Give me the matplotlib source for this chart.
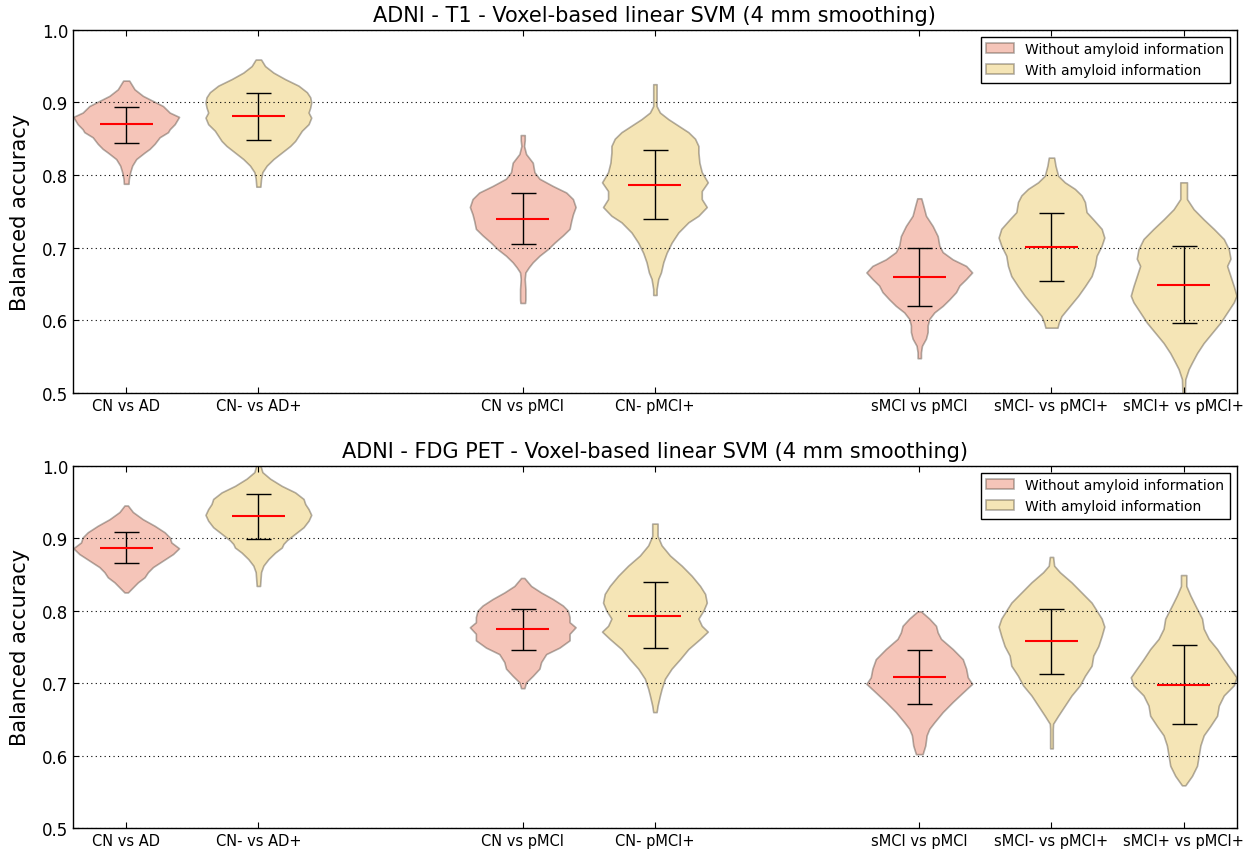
import numpy as np
import matplotlib.pyplot as plt
from matplotlib.patches import Patch

positions = [1, 2, 4, 5, 7, 8, 9]
tick_labels = ['CN vs AD', 'CN- vs AD+', 'CN vs pMCI', 'CN- pMCI+',
               'sMCI vs pMCI', 'sMCI- vs pMCI+', 'sMCI+ vs pMCI+']
with_amyloid = [False, True, False, True, False, True, True]
titles = ['ADNI - T1 - Voxel-based linear SVM (4 mm smoothing)',
          'ADNI - FDG PET - Voxel-based linear SVM (4 mm smoothing)']

# mean and std (error bar half length)
t1_mean = [0.870, 0.881, 0.739, 0.786, 0.660, 0.701, 0.649]
t1_low  = [0.844, 0.848, 0.705, 0.739, 0.620, 0.654, 0.596]
t1_high = [0.894, 0.913, 0.775, 0.834, 0.700, 0.748, 0.702]

pet_mean = [0.887, 0.930, 0.774, 0.793, 0.708, 0.758, 0.698]
pet_low  = [0.865, 0.899, 0.745, 0.748, 0.671, 0.712, 0.643]
pet_high = [0.909, 0.961, 0.802, 0.839, 0.746, 0.802, 0.752]

# violin outlines: accuracy levels and relative half widths
t1_y = [
    [0.930, 0.918, 0.909, 0.895, 0.886, 0.880, 0.870, 0.863, 0.859, 0.852, 0.843, 0.836, 0.831, 0.822, 0.813, 0.804, 0.795, 0.788],
    [0.959, 0.950, 0.941, 0.932, 0.923, 0.914, 0.907, 0.900, 0.893, 0.886, 0.879, 0.870, 0.861, 0.854, 0.847, 0.840, 0.831, 0.822, 0.813, 0.804, 0.795, 0.784],
    [0.855, 0.848, 0.840, 0.829, 0.817, 0.804, 0.795, 0.785, 0.776, 0.767, 0.756, 0.746, 0.737, 0.726, 0.717, 0.707, 0.698, 0.689, 0.680, 0.673, 0.666, 0.657, 0.643, 0.629, 0.624],
    [0.925, 0.910, 0.895, 0.886, 0.877, 0.868, 0.859, 0.850, 0.840, 0.831, 0.817, 0.804, 0.790, 0.778, 0.767, 0.756, 0.744, 0.735, 0.721, 0.707, 0.693, 0.680, 0.666, 0.657, 0.643, 0.635],
    [0.768, 0.758, 0.744, 0.730, 0.716, 0.703, 0.694, 0.684, 0.675, 0.666, 0.657, 0.648, 0.639, 0.629, 0.620, 0.611, 0.602, 0.593, 0.584, 0.575, 0.565, 0.556, 0.548],
    [0.824, 0.813, 0.799, 0.790, 0.781, 0.772, 0.763, 0.749, 0.739, 0.726, 0.714, 0.703, 0.689, 0.675, 0.661, 0.647, 0.634, 0.620, 0.606, 0.597, 0.590],
    [0.790, 0.767, 0.753, 0.739, 0.726, 0.712, 0.698, 0.685, 0.675, 0.661, 0.647, 0.634, 0.625, 0.611, 0.597, 0.583, 0.569, 0.555, 0.542, 0.533, 0.519, 0.490],
]
t1_w = [
    [9, 25, 50, 110, 130, 158, 145, 130, 125, 100, 85, 70, 55, 30, 18, 12, 8, 7],
    [8, 20, 45, 80, 120, 145, 155, 158, 155, 150, 158, 150, 130, 120, 110, 95, 70, 45, 25, 12, 8, 6],
    [6, 6, 4, 10, 30, 35, 50, 90, 130, 150, 158, 150, 145, 140, 120, 95, 75, 50, 30, 18, 8, 6, 8, 8, 7],
    [5, 5, 5, 15, 40, 70, 100, 120, 130, 130, 133, 140, 158, 140, 140, 155, 130, 100, 70, 50, 35, 25, 18, 10, 5, 5],
    [6, 12, 20, 40, 55, 60, 70, 100, 140, 158, 140, 120, 110, 90, 70, 45, 30, 25, 25, 20, 8, 5, 5],
    [8, 12, 20, 40, 70, 90, 100, 105, 125, 150, 158, 150, 135, 130, 120, 100, 80, 55, 30, 22, 18],
    [10, 10, 30, 60, 90, 120, 135, 140, 130, 140, 150, 158, 150, 130, 110, 85, 60, 40, 25, 15, 5, 3],
]

pet_y = [
    [0.945, 0.936, 0.926, 0.917, 0.908, 0.901, 0.894, 0.886, 0.878, 0.869, 0.860, 0.853, 0.846, 0.839, 0.832, 0.825],
    [1.002, 0.991, 0.982, 0.972, 0.963, 0.954, 0.947, 0.940, 0.932, 0.924, 0.915, 0.906, 0.897, 0.892, 0.887, 0.880, 0.871, 0.862, 0.853, 0.834],
    [0.845, 0.834, 0.825, 0.816, 0.807, 0.800, 0.791, 0.784, 0.777, 0.768, 0.759, 0.749, 0.740, 0.729, 0.720, 0.710, 0.701, 0.693],
    [0.920, 0.903, 0.890, 0.876, 0.862, 0.848, 0.834, 0.823, 0.811, 0.800, 0.789, 0.779, 0.771, 0.761, 0.747, 0.733, 0.720, 0.706, 0.692, 0.683, 0.669, 0.660],
    [0.799, 0.789, 0.779, 0.770, 0.761, 0.747, 0.733, 0.720, 0.708, 0.699, 0.687, 0.674, 0.660, 0.646, 0.637, 0.628, 0.614, 0.602],
    [0.874, 0.862, 0.853, 0.839, 0.825, 0.811, 0.800, 0.789, 0.778, 0.765, 0.751, 0.738, 0.724, 0.710, 0.697, 0.683, 0.669, 0.655, 0.644, 0.637, 0.610],
    [0.849, 0.834, 0.821, 0.807, 0.789, 0.775, 0.761, 0.747, 0.733, 0.720, 0.708, 0.697, 0.683, 0.669, 0.655, 0.641, 0.628, 0.614, 0.600, 0.586, 0.572, 0.559],
]
pet_w = [
    [5, 20, 50, 85, 115, 130, 135, 158, 140, 110, 80, 65, 55, 35, 20, 5],
    [5, 12, 35, 70, 110, 135, 140, 150, 158, 150, 135, 110, 85, 75, 70, 50, 30, 15, 8, 5],
    [5, 25, 55, 90, 120, 135, 140, 140, 158, 140, 140, 110, 70, 55, 50, 30, 10, 5],
    [8, 8, 20, 45, 80, 110, 135, 150, 155, 145, 130, 140, 158, 135, 100, 75, 50, 30, 20, 15, 8, 5],
    [5, 30, 50, 55, 65, 100, 130, 140, 145, 158, 130, 100, 70, 45, 30, 22, 18, 10],
    [5, 8, 25, 60, 90, 120, 135, 150, 158, 150, 140, 125, 120, 100, 85, 60, 40, 20, 5, 4, 4],
    [8, 8, 20, 35, 55, 60, 75, 100, 120, 140, 158, 150, 120, 105, 100, 80, 60, 50, 45, 40, 25, 5],
]

pink = (0.93, 0.55, 0.46)
yellow = (0.93, 0.80, 0.43)
edge = (0.25, 0.22, 0.18, 0.4)

plt.rcParams['xtick.direction'] = 'in'
plt.rcParams['ytick.direction'] = 'in'
plt.rcParams['xtick.top'] = True
plt.rcParams['ytick.right'] = True
plt.rcParams['xtick.major.size'] = 4
plt.rcParams['ytick.major.size'] = 4
plt.rcParams['axes.linewidth'] = 1.0

fig = plt.figure(figsize=(12.49, 8.53), dpi=100)
ax1 = fig.add_axes([0.0587, 0.538, 0.9313, 0.426])
ax2 = fig.add_axes([0.0587, 0.028, 0.9313, 0.425])

panels = [(ax1, t1_y, t1_w, t1_mean, t1_low, t1_high, titles[0]),
          (ax2, pet_y, pet_w, pet_mean, pet_low, pet_high, titles[1])]

for ax, ys, ws, mean, low, high, title in panels:
    stats = []
    for y, w in zip(ys, ws):
        y = np.array(y)[::-1]
        w = np.array(w, dtype=float)[::-1]
        stats.append({'coords': y, 'vals': w, 'mean': 0, 'median': 0,
                      'min': y.min(), 'max': y.max()})
    parts = ax.violin(stats, positions=positions, widths=0.8,
                      showmeans=False, showextrema=False)
    for pc, amy in zip(parts['bodies'], with_amyloid):
        c = yellow if amy else pink
        pc.set_facecolor(c + (0.5,))
        pc.set_edgecolor(edge)
        pc.set_linewidth(1.2)
        pc.set_alpha(None)
    mean = np.array(mean)
    ax.errorbar(positions, mean, yerr=[mean - np.array(low), np.array(high) - mean],
                fmt='none', ecolor='k', elinewidth=1, capsize=9, capthick=1, zorder=1)
    ax.hlines(mean, np.array(positions) - 0.2, np.array(positions) + 0.2,
              colors='r', lw=1.5, zorder=3)
    ax.set_xlim(0.6, 9.4)
    ax.set_ylim(0.5, 1.0)
    ax.set_yticks([0.5, 0.6, 0.7, 0.8, 0.9, 1.0])
    ax.set_xticks(positions)
    ax.set_xticklabels(tick_labels, fontsize=10.5)
    ax.tick_params(axis='y', labelsize=12)
    ax.yaxis.grid(True, linestyle=(0, (1, 3)), color='k', lw=0.8)
    ax.set_axisbelow(False)
    ax.set_ylabel('Balanced accuracy', fontsize=15, labelpad=9)
    ax.set_title(title, fontsize=15)
    handles = [Patch(facecolor=pink + (0.5,), edgecolor=edge, lw=1.2),
               Patch(facecolor=yellow + (0.5,), edgecolor=edge, lw=1.2)]
    leg = ax.legend(handles, ['Without amyloid information', 'With amyloid information'],
                    loc='upper right', fontsize=10, fancybox=False, framealpha=1)
    leg.get_frame().set_edgecolor('k')

fig.savefig('out.png', dpi=100)
